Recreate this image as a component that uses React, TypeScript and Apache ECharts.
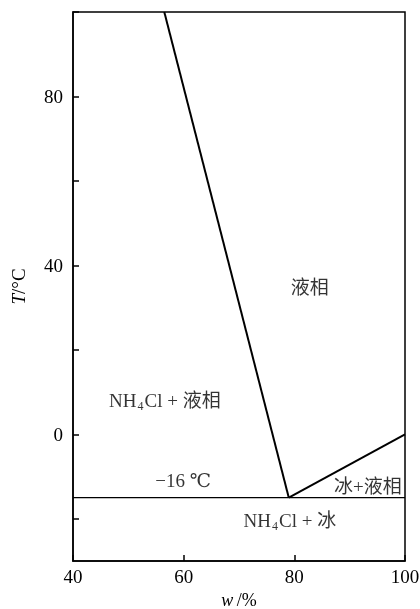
import React, { useEffect, useRef } from "react";
import * as echarts from "echarts";

const liquidusNH4Cl: [number, number][] = [[56.5, 100], [79, -15]];
const liquidusIce: [number, number][] = [[79, -15], [100, 0]];
const eutecticLine: [number, number][] = [[40, -15], [100, -15]];
const xTicks = [40, 60, 80, 100];
const yTicks = [-20, 0, 20, 40, 60, 80, 100];
const yLabels = [0, 40, 80];
const regionLabels: { value: [number, number]; text: string }[] = [
  { value: [82.8, 34.8], text: "{a|液相}" },
  { value: [56.6, 8], text: "{a|NH}{s|4}{a|Cl + 液相}" },
  { value: [59.9, -11], text: "{a|−16 ℃}" },
  { value: [93.3, -12.4], text: "{a|冰+液相}" },
  { value: [79.2, -20.5], text: "{a|NH}{s|4}{a|Cl + 冰}" },
];

const FONT = "'Liberation Serif', 'DejaVu Serif', 'Noto Sans CJK SC', serif";
const FS = 19;
const INK = "#000";

export default function App() {
  const ref = useRef<HTMLDivElement>(null);
  useEffect(() => {
    if (!ref.current) return;
    const chart = echarts.init(ref.current, undefined, { renderer: "svg" });
    const lineSeries = (data: [number, number][], w: number) => ({
      type: "line",
      data,
      symbol: "none",
      lineStyle: { color: INK, width: w },
      silent: true,
    });
    chart.setOption({
      animation: false,
      grid: {
        left: 73,
        right: 15,
        top: 12,
        bottom: 48,
        outerBoundsMode: "none",
        containLabel: false,
        show: true,
        borderColor: INK,
        borderWidth: 1.5,
      },
      xAxis: {
        type: "value",
        min: 40,
        max: 100,
        interval: 20,
        axisLine: { onZero: false, lineStyle: { color: INK, width: 1.5 } },
        axisTick: { inside: true, length: 6, lineStyle: { color: INK, width: 1.5 }, customValues: xTicks },
        axisLabel: { color: INK, fontFamily: FONT, fontSize: FS, margin: 6, customValues: xTicks },
        splitLine: { show: false },
        name: "{i|w} {n|/%}",
        nameLocation: "middle",
        nameGap: 28,
        nameTextStyle: {
          rich: {
            i: { fontFamily: FONT, fontStyle: "italic", fontSize: 18, color: INK },
            n: { fontFamily: FONT, fontSize: 18, color: INK },
          },
        },
      },
      yAxis: {
        type: "value",
        min: -30,
        max: 100,
        axisLine: { onZero: false, lineStyle: { color: INK, width: 1.5 } },
        axisTick: { inside: true, length: 6, lineStyle: { color: INK, width: 1.5 }, customValues: yTicks },
        axisLabel: { color: INK, fontFamily: FONT, fontSize: FS, margin: 10, customValues: yLabels },
        splitLine: { show: false },
        name: "{i|T}{n|/°C}",
        nameLocation: "middle",
        nameGap: 45,
        nameRotate: 90,
        nameTextStyle: {
          rich: {
            i: { fontFamily: FONT, fontStyle: "italic", fontSize: FS, color: INK },
            n: { fontFamily: FONT, fontSize: FS, color: INK },
          },
        },
      },
      series: [
        lineSeries(liquidusNH4Cl, 2),
        lineSeries(liquidusIce, 2),
        lineSeries(eutecticLine, 1.2),
        {
          type: "scatter",
          symbolSize: 0,
          silent: true,
          data: regionLabels.map((d) => ({ value: d.value, label: { formatter: d.text } })),
          label: {
            show: true,
            position: "inside",
            color: INK,
            rich: {
              a: { fontFamily: FONT, fontSize: FS, color: INK },
              s: { fontFamily: FONT, fontSize: 12, color: INK, padding: [10, 1, 0, 1] },
            },
          },
        },
      ],
    });
    return () => chart.dispose();
  }, []);
  return (
    <div
      ref={ref}
      style={{ position: "fixed", left: 0, top: 0, width: 420, height: 609 }}
    />
  );
}
